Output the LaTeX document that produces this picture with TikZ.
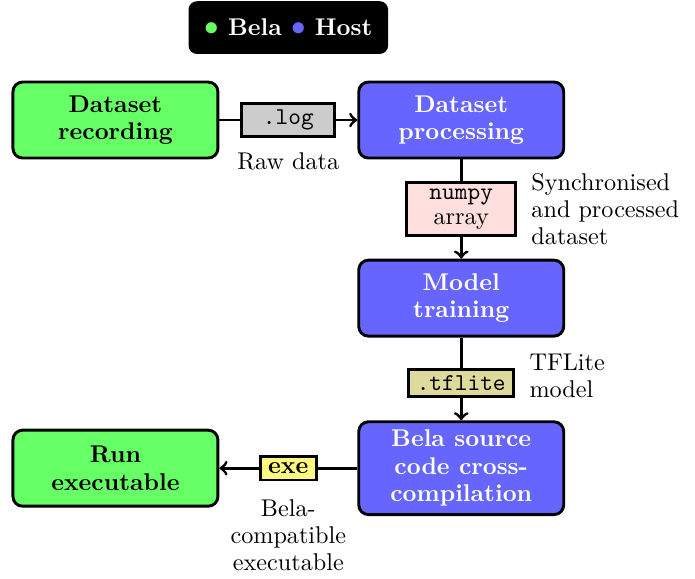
\documentclass[tikz,border=0pt]{standalone}
\usepackage{tikz}
\usetikzlibrary{positioning,calc}

\begin{document}
\begin{tikzpicture}[
	stage/.style = {
		draw, very thick,
		rounded corners=4pt,
		minimum width = 84.7pt,
		minimum height = 31.4pt,
		align=center,
		font=\bfseries\linespread{0.95}\selectfont,
	},
	bela/.style = {stage, fill=green!60},
	host/.style = {stage, fill=blue!60, text=white},
	filebox/.style = {
		draw, very thick,
		inner ysep=2.6pt,
		align=center,
		font=\linespread{0.87}\selectfont,
	},
	note/.style = {align=left, font=\linespread{0.93}\selectfont},
	node distance=57pt
]

% Main stages
\node [bela] (rec) {Dataset\\recording};
\node [host, right=of rec] (proc) {Dataset\\processing};
\node [host, below=41pt of proc] (train) {Model\\training};
\node [host, below=34.2pt of train] (cross) {Bela source\\code cross-\\compilation};
\node [bela, left=of cross] (run) {Run\\executable};

% Legend box
\coordinate (top) at ($(rec.north)!0.5!(proc.north)$);
\node [
	above=10.8pt of top,
	fill=black, text=white,
	rounded corners=3.5pt,
	inner xsep=6.5pt, inner ysep=7.4pt,
	font=\bfseries,
] (key) {\textcolor{green!60}{\large$\bullet$} Bela \textcolor{blue!60}{\large$\bullet$} Host};

% Connections with the files passed between stages
\draw[->, very thick] (rec) -- node[filebox, fill=gray!40, minimum width=38.5pt,
	label={[label distance=2pt]below:Raw data}] (log) {\texttt{.log}} (proc);
\draw[->, very thick] (proc) -- node[filebox, fill=red!13, minimum width=45pt,
	label={[note, label distance=2pt]right:Synchronised\\and processed\\dataset}] (arr) {\texttt{numpy}\\array} (train);
\draw[->, very thick] (train) -- node[filebox, pos=0.55, fill=olive!30,
	label={[note, label distance=2pt, yshift=3pt]right:TFLite\\model}] (lite) {\texttt{.tflite}} (cross);
\draw[->, very thick] (cross) -- node[filebox, fill=yellow!50, font=\bfseries,
	label={[align=center, font=\linespread{0.93}\selectfont, label distance=3.5pt]below:Bela-\\compatible\\executable}] (exe) {exe} (run);

\useasboundingbox ($(rec.center)+(-47.7pt,49.6pt)$) rectangle ($(rec.center)+(239.5pt,-187.6pt)$);

\end{tikzpicture}
\end{document}
